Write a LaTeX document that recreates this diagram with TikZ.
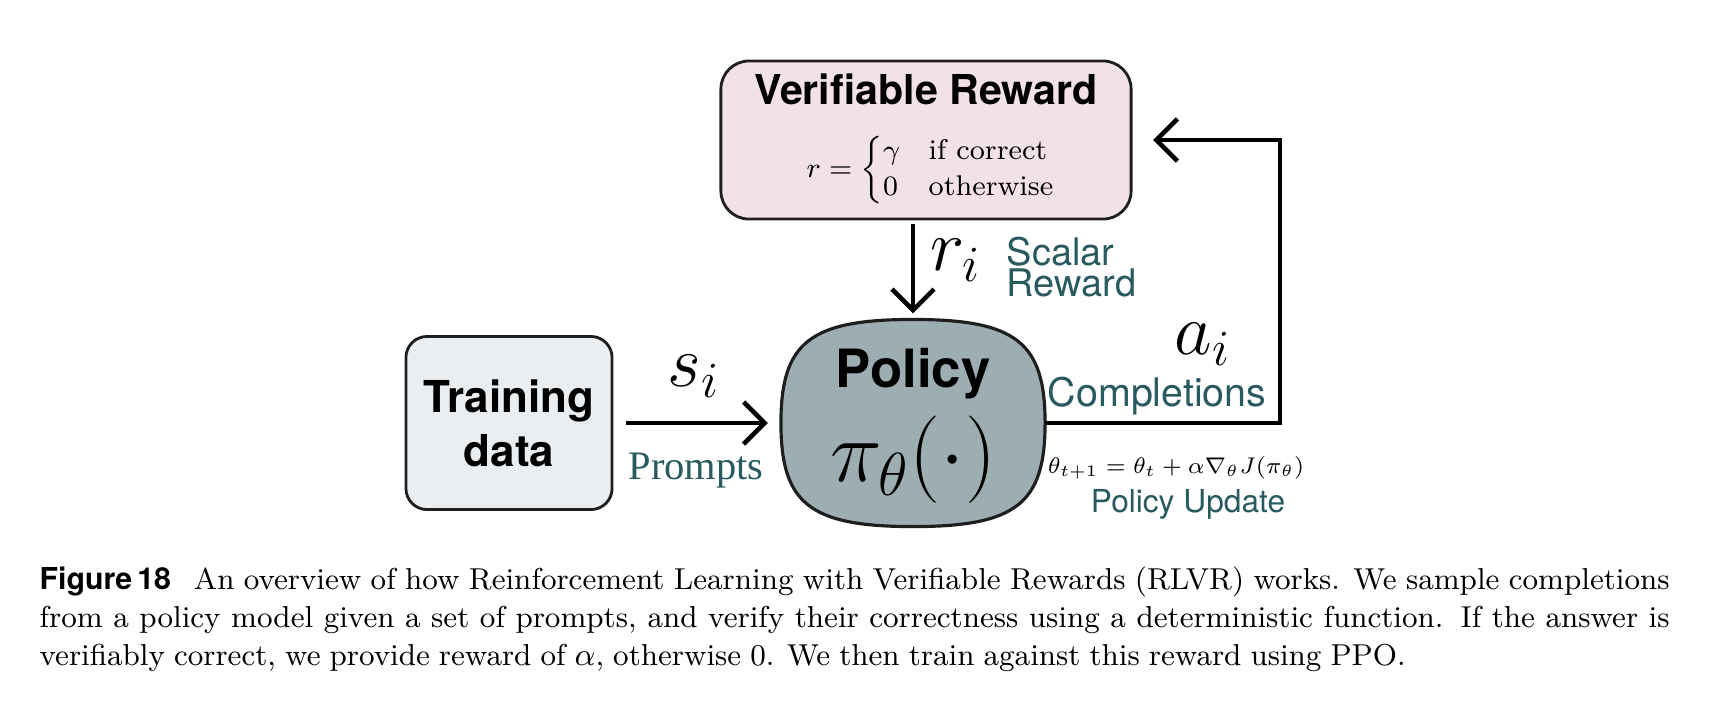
\documentclass[tikz,border=0pt]{standalone}
\usepackage{amsmath}
\usepackage{fontspec}
\newfontfamily\headfont{TeX Gyre Heros}
\newfontfamily\promptfont{Liberation Serif}
\usetikzlibrary{arrows.meta,positioning,backgrounds,calc}
\definecolor{rosy}{RGB}{243,225,234}
\definecolor{mist}{RGB}{235,238,240}
\definecolor{slate}{RGB}{157,174,179}
\definecolor{deepteal}{RGB}{40,90,96}
\definecolor{ink}{RGB}{30,30,30}
\tikzset{
  >={Straight Barb[length=6pt,width=12pt]},
  box/.style={draw=ink,fill=#1,line width=0.8pt,align=center,outer sep=0pt},
  box/.default=mist,
  flow/.style={->,line width=1.3pt,draw=black},
  head/.style={font=\headfont\bfseries\fontsize{#1}{#1}\selectfont,align=center,inner sep=0pt},
  tag/.style={text=deepteal,align=left,inner sep=0pt,font=\headfont\fontsize{#1}{#1}\selectfont},
  sym/.style={font=\fontsize{20}{24}\selectfont,inner sep=0pt},
}

\begin{document}
\begin{tikzpicture}[x=0.01cm,y=-0.01cm]
  \useasboundingbox (0,0) rectangle (1734,726);

  % reward box
  \node[box=rosy,rounded corners=8pt,minimum width=4.1cm,minimum height=1.58cm] (reward) at (926,140) {};
  \node[head=11.7] (rtitle) at (926,89) {Verifiable Reward};
  \node[inner sep=0pt,font=\fontsize{8.1}{10.2}\selectfont] (rcases) at (932,170)
    {$r=\left\{\begin{array}{@{}l@{\quad}l@{}}\gamma & \text{if correct}\\ 0 & \text{otherwise}\end{array}\right.$};

  % training data and policy
  \node[box=mist,rounded corners=6pt,minimum width=2.06cm,minimum height=1.73cm,
        font=\headfont\bfseries\fontsize{12.5}{15.4}\selectfont] (data) at (509,423) {Training\\data};
  \node[minimum width=2.64cm,minimum height=2.07cm,outer sep=0pt] (policy) at (913,423) {};
  \begin{scope}[on background layer]
    \filldraw[fill=slate,draw=ink,line width=0.9pt]
      (policy.north) .. controls ($(policy.north)!0.78!(policy.north east)$) and ($(policy.east)!0.78!(policy.north east)$) .. (policy.east)
      .. controls ($(policy.east)!0.78!(policy.south east)$) and ($(policy.south)!0.78!(policy.south east)$) .. (policy.south)
      .. controls ($(policy.south)!0.78!(policy.south west)$) and ($(policy.west)!0.78!(policy.south west)$) .. (policy.west)
      .. controls ($(policy.west)!0.78!(policy.north west)$) and ($(policy.north)!0.78!(policy.north west)$) .. (policy.north) -- cycle;
  \end{scope}
  \node[head=15] (ptitle) at (913,374) {Policy};
  \node[inner sep=0pt,font=\fontsize{24}{28}\selectfont] (pmath) at (913,460) {$\pi_{\theta}(\cdot)$};

  % prompts
  \draw[flow,shorten <=0.14cm,shorten >=0.13cm] (data.east) -- (policy.west);
  \node[sym] (si) at (694,376) {$s_i$};
  \node[text=deepteal,inner sep=0pt,font=\promptfont\fontsize{11.5}{13}\selectfont] (prompts) at (696,471) {Prompts};

  % scalar reward
  \draw[flow,shorten <=0.05cm,shorten >=0.06cm] (reward.south -| policy.north) -- (policy.north);
  \node[sym] (ri) at (956,260) {$r_i$};
  \node[tag=10.5,anchor=west,font=\headfont\fontsize{10.8}{8.6}\selectfont] (scalar) at (1006,267) {Scalar\\Reward};

  % completions loop
  \coordinate (turn) at (1280,140);
  \draw[flow,shorten >=0.22cm] (policy.east) -| (turn) -- (reward.east);
  \node[sym] (ai) at (1203,344) {$a_i$};
  \node[tag=11.2] (compl) at (1157,396) {Completions};
  \node[inner sep=0pt,scale=0.92,transform shape,font=\fontsize{7}{9}\selectfont] (update) at (1176,468) {$\theta_{t+1}=\theta_t+\alpha\nabla_{\theta}J(\pi_{\theta})$};
  \node[tag=9] (pupdate) at (1188,504) {Policy Update};

  % caption
  \node[anchor=north west,text width=16.29cm,align=justify,inner sep=0pt,
        font=\fontsize{8.6}{10.8}\selectfont] (caption) at (39,566)
    {\hyphenpenalty=10000 \spaceskip=.3em plus .3em minus .16em
     {\headfont\bfseries Figure\,18}\hspace{0.45em} An overview of how Reinforcement Learning with Verifiable Rewards (RLVR) works. We sample completions\linebreak
     from a policy model given a set of prompts, and verify their correctness using a deterministic function. If the answer is\linebreak
     verifiably correct, we provide reward of $\alpha$, otherwise 0. We then train against this reward using PPO.};
\end{tikzpicture}
\end{document}
